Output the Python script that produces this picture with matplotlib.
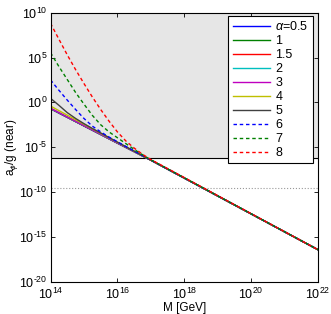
import numpy as np
import matplotlib
matplotlib.use("Agg")
import matplotlib.pyplot as plt
from matplotlib.ticker import FuncFormatter

plt.rcParams['font.family'] = ['Liberation Sans', 'DejaVu Sans']
plt.rcParams['mathtext.fontset'] = 'custom'
plt.rcParams['mathtext.rm'] = 'Liberation Sans'
plt.rcParams['mathtext.it'] = 'Liberation Sans:italic'

# log10 of M [GeV]
logm_coarse = [14, 14.5, 15, 15.5, 16, 16.5, 17, 22]
logm_fine = [14, 14.25, 14.5, 14.75, 15, 15.25, 15.5, 15.75, 16, 16.25, 16.5, 16.75, 17, 22]

# log10 of a_phi/g (near)
loga_05 = [-0.72, -1.68, -2.64, -3.6, -4.56, -5.51, -6.46, -16.45]
loga_1 = [-0.71, -1.67, -2.63, -3.59, -4.55, -5.5, -6.46, -16.45]
loga_15 = [-0.7, -1.66, -2.62, -3.58, -4.54, -5.5, -6.46, -16.45]
loga_2 = [-0.69, -1.65, -2.61, -3.57, -4.53, -5.49, -6.46, -16.45]
loga_3 = [-0.66, -1.63, -2.59, -3.55, -4.52, -5.48, -6.45, -16.45]
loga_4 = [-0.42, -1.43, -2.44, -3.45, -4.45, -5.45, -6.45, -16.45]
loga_5 = [0.45, -0.33, -1.15, -1.8, -2.38, -2.92, -3.42, -3.93, -4.44, -4.95, -5.45, -5.95, -6.45, -16.45]
loga_6 = [2.5, 1.35, 0.25, -0.8, -1.8, -2.65, -3.3, -3.88, -4.4, -4.92, -5.43, -5.94, -6.44, -16.45]
loga_7 = [5.54, 4.0, 2.55, 1.1, -0.2, -1.45, -2.5, -3.3, -3.95, -4.6, -5.25, -5.85, -6.42, -16.45]
loga_8 = [8.82, 7.05, 5.3, 3.65, 2.1, 0.6, -0.8, -2.1, -3.3, -4.3, -5.1, -5.8, -6.38, -16.45]

labels = [r'$\alpha$=0.5', '1', '1.5', '2', '3', '4', '5', '6', '7', '8']
bound_log = -6.2     # edge of the shaded region
dotted_log = -9.6    # dotted reference line

series = [
    (logm_coarse, loga_05, (0, 0, 1), '-'),
    (logm_coarse, loga_1, (0, 0.5, 0), '-'),
    (logm_coarse, loga_15, (1, 0, 0), '-'),
    (logm_coarse, loga_2, (0, 0.75, 0.75), '-'),
    (logm_coarse, loga_3, (0.75, 0, 0.75), '-'),
    (logm_coarse, loga_4, (0.75, 0.75, 0), '-'),
    (logm_fine, loga_5, (0.25, 0.25, 0.25), '-'),
    (logm_fine, loga_6, (0, 0, 1), '--'),
    (logm_fine, loga_7, (0, 0.5, 0), '--'),
    (logm_fine, loga_8, (1, 0, 0), '--'),
]


def pow_label(v, pos):
    e = int(round(np.log10(v)))
    s = str(e).replace('-', '\u2010')
    return r'$10^{%s}$' % s


fig = plt.figure(figsize=(3.31, 3.14), dpi=100)
ax = fig.add_axes([0.1526, 0.1035, 0.808, 0.856])

ax.axhspan(10 ** bound_log, 1e10, color=(0.9, 0.9, 0.9), zorder=0)
ax.axhline(10 ** bound_log, color='k', lw=0.8, zorder=1)
ax.axhline(10 ** dotted_log, color=(0.6, 0.6, 0.6), lw=0.8, ls=':', zorder=1)

for (lm, la, col, ls), lab in zip(series, labels):
    ax.plot(10 ** np.array(lm, dtype=float), 10 ** np.array(la, dtype=float),
            color=col, ls=ls, lw=1.0, label=lab, dashes=(2.5, 2) if ls == '--' else (None, None))

ax.set_xscale('log')
ax.set_yscale('log')
ax.set_xlim(1e14, 1e22)
ax.set_ylim(1e-20, 1e10)
ax.set_xticks([10.0 ** k for k in range(14, 23, 2)])
ax.set_yticks([10.0 ** k for k in range(-20, 11, 5)])
ax.minorticks_off()
ax.xaxis.set_major_formatter(FuncFormatter(pow_label))
ax.yaxis.set_major_formatter(FuncFormatter(pow_label))
ax.tick_params(direction='in', top=True, right=True, labelsize=9, length=3, width=0.6)
ax.tick_params(axis='y', pad=2)
ax.tick_params(axis='x', pad=4)
for s in ax.spines.values():
    s.set_linewidth(0.8)

ax.set_xlabel('M [GeV]', fontsize=8.5, labelpad=0)
ax.set_ylabel(r'a$_\phi$/g (near)', fontsize=8.5)
ax.yaxis.set_label_coords(-0.115, 0.5)

leg = ax.legend(loc='upper right', bbox_to_anchor=(0.981, 0.989), borderaxespad=0,
                fontsize=9, handlelength=3.0, labelspacing=0.16,
                borderpad=0.35, handletextpad=0.4, fancybox=False, framealpha=1)
leg.get_frame().set_edgecolor('k')
leg.get_frame().set_linewidth(0.8)

fig.savefig('out.png', dpi=100)
